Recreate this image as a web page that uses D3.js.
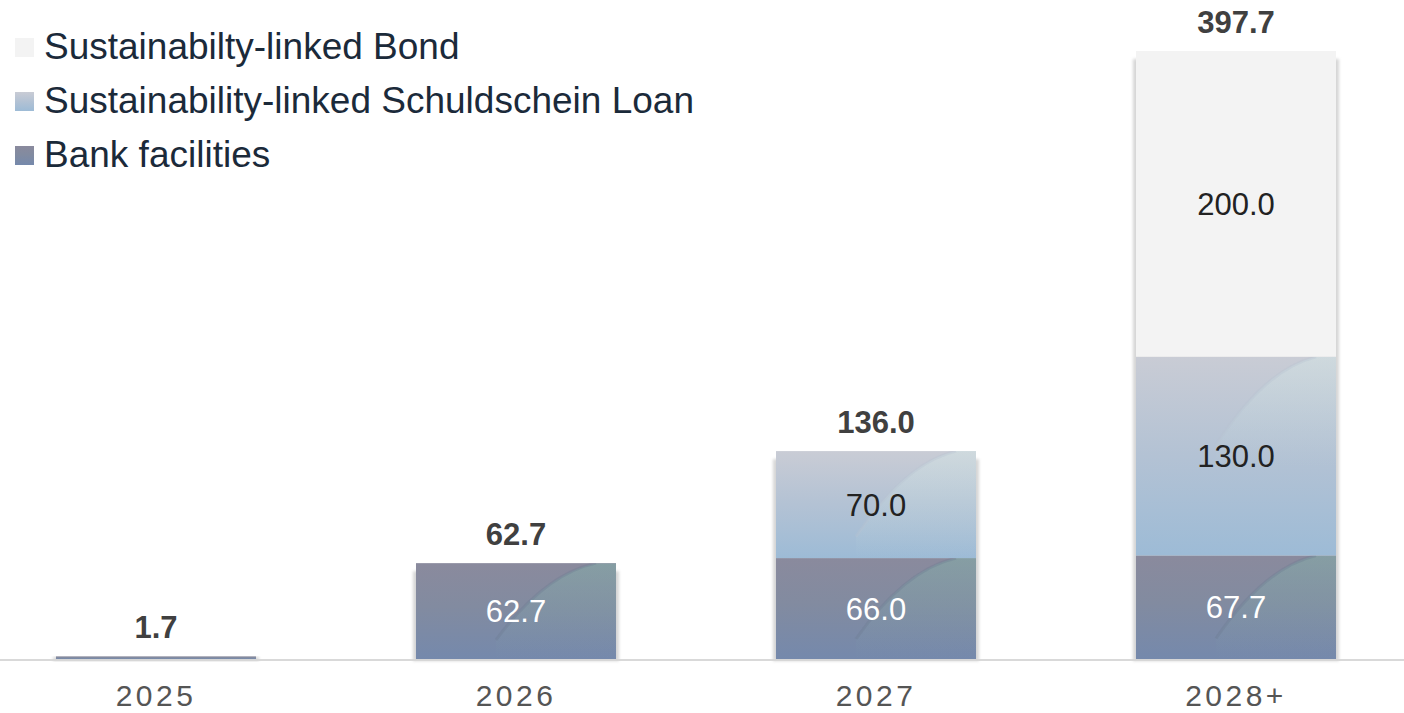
<!DOCTYPE html>
<html>
<head>
<meta charset="utf-8">
<script src="https://cdn.jsdelivr.net/npm/d3@7"></script>
<style>
  html, body { margin: 0; padding: 0; background: #ffffff; }
  svg { display: block; font-family: "Liberation Sans", Arial, sans-serif; }
</style>
</head>
<body>
<svg id="chart" width="1404" height="713"></svg>
<script>
// Maturity profile by year (EUR m)
const categories = ["2025", "2026", "2027", "2028+"];
const bankFacilities = [1.7, 62.7, 66.0, 67.7];
const schuldscheinLoan = [0, 0, 70.0, 130.0];
const sustainabilityBond = [0, 0, 0, 200.0];

const seriesNames = ["Bank facilities", "Sustainability-linked Schuldschein Loan", "Sustainabilty-linked Bond"];
const seriesKeys = ["bank", "ssd", "bond"];

const rows = categories.map((c, i) => ({
  cat: c,
  bank: bankFacilities[i],
  ssd: schuldscheinLoan[i],
  bond: sustainabilityBond[i]
}));

const W = 1404, H = 713;
const svg = d3.select("#chart");
const defs = svg.append("defs");

// Gradient fills per series
function vGrad(id, stops) {
  const g = defs.append("linearGradient").attr("id", id)
    .attr("x1", 0).attr("y1", 0).attr("x2", 0).attr("y2", 1);
  stops.forEach(s => g.append("stop").attr("offset", s[0]).attr("stop-color", s[1]));
}
vGrad("g-bank", [[0, "#8a8a9d"], [0.45, "#828ba0"], [1, "#7589ac"]]);
vGrad("g-ssd", [[0, "#c9ccd5"], [0.5, "#b3c2d4"], [1, "#9dbbd6"]]);
vGrad("g-bond", [[0, "#f3f3f3"], [1, "#f3f3f3"]]);

// Swoosh tint fading downward
const sw = defs.append("linearGradient").attr("id", "g-swoosh-bank")
  .attr("x1", 0).attr("y1", 0).attr("x2", 0).attr("y2", 1);
sw.append("stop").attr("offset", 0).attr("stop-color", "#82b2aa").attr("stop-opacity", 0.5);
sw.append("stop").attr("offset", 1).attr("stop-color", "#7fa0b0").attr("stop-opacity", 0);
const sw2 = defs.append("linearGradient").attr("id", "g-swoosh-ssd")
  .attr("x1", 0).attr("y1", 0).attr("x2", 0).attr("y2", 1);
sw2.append("stop").attr("offset", 0).attr("stop-color", "#d4e6e6").attr("stop-opacity", 0.5);
sw2.append("stop").attr("offset", 1).attr("stop-color", "#c0dbe0").attr("stop-opacity", 0);

const shadow = defs.append("filter").attr("id", "f-shadow")
  .attr("x", "-10%").attr("y", "-10%").attr("width", "120%").attr("height", "120%");
shadow.append("feGaussianBlur").attr("stdDeviation", 1.6);

const fills = { bank: "url(#g-bank)", ssd: "url(#g-ssd)", bond: "url(#g-bond)" };
const swooshFill = { bank: "url(#g-swoosh-bank)", ssd: "url(#g-swoosh-ssd)", bond: null };
const labelColor = { bank: "#ffffff", ssd: "#222222", bond: "#222222" };

const x = d3.scaleBand().domain(categories).range([-24, 1416])
  .paddingInner(0.4444).paddingOuter(0.2222);
const y = d3.scaleLinear().domain([0, 397.7]).range([659, 51]);

const stack = d3.stack().keys(seriesKeys)(rows);

// Baseline
svg.append("line")
  .attr("x1", 0).attr("x2", W).attr("y1", y(0) + 1).attr("y2", y(0) + 1)
  .attr("stroke", "#d9d9d9").attr("stroke-width", 2);

// Soft shadow behind each bar
const totals = rows.map(r => r.bank + r.ssd + r.bond);
svg.append("g").selectAll("rect").data(rows).join("rect")
  .attr("x", (d) => x(d.cat) - 3)
  .attr("width", x.bandwidth() + 6)
  .attr("y", (d, i) => Math.min(y(totals[i]) + 8, y(0) - 2))
  .attr("height", (d, i) => y(0) + 2 - Math.min(y(totals[i]) + 8, y(0) - 2))
  .attr("fill", "#d6d6d6")
  .attr("filter", "url(#f-shadow)");

const layers = svg.append("g");
stack.forEach((layer) => {
  const key = layer.key;
  const g = layers.append("g");
  layer.forEach((d, i) => {
    const v = d[1] - d[0];
    if (v <= 0) return;
    const x0 = x(categories[i]), w = x.bandwidth();
    const y0 = y(d[1]), h = y(d[0]) - y(d[1]);
    g.append("rect").attr("x", x0).attr("y", y0).attr("width", w).attr("height", h)
      .attr("fill", fills[key]);
    if (swooshFill[key] && h > 20) {
      const clipId = `clip-${key}-${i}`;
      defs.append("clipPath").attr("id", clipId)
        .append("rect").attr("x", x0).attr("y", y0).attr("width", w).attr("height", h);
      const sh = Math.min(h, 110);
      const p = d3.path();
      p.moveTo(x0 + 0.4 * w, y0 + 0.8 * sh);
      p.bezierCurveTo(x0 + 0.56 * w, y0 + 0.35 * sh, x0 + 0.72 * w, y0 + 0.08 * sh, x0 + 0.9 * w, y0);
      p.lineTo(x0 + w, y0);
      p.lineTo(x0 + w, y0 + sh);
      p.lineTo(x0 + 0.4 * w, y0 + sh);
      p.closePath();
      g.append("path").attr("d", p.toString()).attr("fill", swooshFill[key])
        .attr("clip-path", `url(#${clipId})`);
      const c = d3.path();
      c.moveTo(x0 + 0.4 * w, y0 + 0.8 * sh);
      c.bezierCurveTo(x0 + 0.56 * w, y0 + 0.35 * sh, x0 + 0.72 * w, y0 + 0.08 * sh, x0 + 0.9 * w, y0);
      g.append("path").attr("d", c.toString()).attr("fill", "none")
        .attr("stroke", key === "bank" ? "#6e7a92" : "#b8c4d2").attr("stroke-opacity", 0.35)
        .attr("stroke-width", 3).attr("clip-path", `url(#${clipId})`);
    }
    if (h > 30) {
      g.append("text")
        .attr("x", x0 + w / 2).attr("y", y0 + h / 2 + 11)
        .attr("text-anchor", "middle")
        .attr("font-size", 31).attr("fill", labelColor[key])
        .text(v.toFixed(1));
    }
  });
});

// Totals above bars
svg.append("g").selectAll("text").data(rows).join("text")
  .attr("x", d => x(d.cat) + x.bandwidth() / 2)
  .attr("y", (d, i) => y(totals[i]) - 18)
  .attr("text-anchor", "middle")
  .attr("font-size", 31).attr("font-weight", "bold").attr("fill", "#404040")
  .text((d, i) => totals[i].toFixed(1));

// Category axis
const xAxis = svg.append("g").attr("transform", `translate(0, ${y(0)})`)
  .call(d3.axisBottom(x).tickSize(0).tickPadding(0));
xAxis.select(".domain").remove();
xAxis.selectAll("text")
  .attr("dy", null).attr("y", 47)
  .attr("font-size", 30).attr("fill", "#555555")
  .attr("letter-spacing", "3.5px")
  .attr("font-family", "\"Liberation Sans\", Arial, sans-serif");

// Legend (top to bottom: bond, schuldschein, bank)
const legendItems = [
  { key: "bond", name: seriesNames[2] },
  { key: "ssd", name: seriesNames[1] },
  { key: "bank", name: seriesNames[0] }
];
const legend = svg.append("g");
legendItems.forEach((it, i) => {
  const gy = 38 + i * 54;
  legend.append("rect").attr("x", 15).attr("y", gy).attr("width", 19).attr("height", 19)
    .attr("fill", fills[it.key]);
  legend.append("text").attr("x", 44).attr("y", gy + 21)
    .attr("font-size", 37).attr("fill", "#1b2a3a").text(it.name);
});
</script>
</body>
</html>
